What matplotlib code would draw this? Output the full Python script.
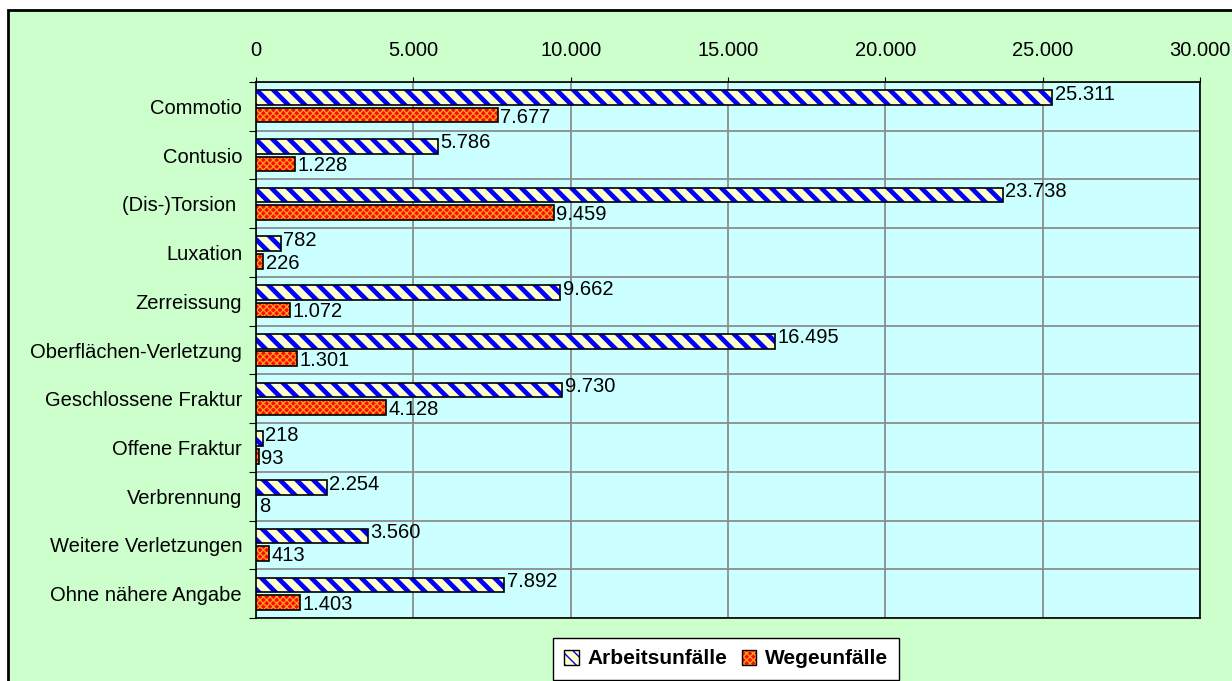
import matplotlib
matplotlib.use('Agg')
import matplotlib.pyplot as plt
import matplotlib.patches as mpatches
import matplotlib.colors as mcolors
import numpy as np

categories = ['Commotio', 'Contusio', '(Dis-)Torsion ', 'Luxation', 'Zerreissung',
              'Oberflächen-Verletzung', 'Geschlossene Fraktur', 'Offene Fraktur',
              'Verbrennung', 'Weitere Verletzungen', 'Ohne nähere Angabe']
arbeit = [25311, 5786, 23738, 782, 9662, 16495, 9730, 218, 2254, 3560, 7892]
wege = [7677, 1228, 9459, 226, 1072, 1301, 4128, 93, 8, 413, 1403]
xticks = [0, 5000, 10000, 15000, 20000, 25000, 30000]

plt.rcParams['font.family'] = ['Liberation Sans', 'DejaVu Sans']

def fmt(v):
    return f"{v:,}".replace(',', '.')

fig = plt.figure(figsize=(12.32, 6.81), dpi=100)
fig.patch.set_facecolor('white')
# green chart area
bg = mpatches.Rectangle((8/1232, -0.05), 1.0, 1 - 10/681 + 0.05, transform=fig.transFigure,
                        facecolor='#CCFFCC', edgecolor='black', linewidth=2, zorder=-5)
fig.patches.append(bg)

ax = fig.add_axes([256/1232, 1 - 618/681, 944/1232, (618 - 82)/681])
ax.set_facecolor('#CCFFFF')

y = np.arange(len(categories))
h = 0.30

with plt.rc_context({'hatch.linewidth': 3.4}):
    b1 = ax.barh(y + 0.32, arbeit, height=h, color='#FFFFCC', edgecolor='black',
                 linewidth=1.2, hatch='\\\\', zorder=3, label='Arbeitsunfälle')
with plt.rc_context({'hatch.linewidth': 0.9}):
    b2 = ax.barh(y + 0.68, wege, height=h, color='#FF0A00', edgecolor='black',
                 linewidth=1.2, hatch='xxxxx', zorder=3, label='Wegeunfälle')
for p in b1:
    p._hatch_color = mcolors.to_rgba('#0000FF')
for p in b2:
    p._hatch_color = mcolors.to_rgba('#FFA020')

for i in range(len(categories)):
    ax.text(arbeit[i] + 80, y[i] + 0.25, fmt(arbeit[i]), va='center', ha='left',
            fontsize=14.5, zorder=4)
    ax.text(wege[i] + 80, y[i] + 0.72, fmt(wege[i]), va='center', ha='left',
            fontsize=14.5, zorder=4)

ax.set_xlim(0, 30000)
ax.set_ylim(len(categories), 0)
ax.xaxis.tick_top()
ax.set_xticks(xticks)
ax.set_xticklabels([fmt(v) for v in xticks], fontsize=14.5)
ax.tick_params(axis='x', length=3.6, pad=12, color='black')

ax.set_yticks(np.arange(len(categories) + 1))
ax.set_yticklabels([])
ax.set_yticks(y + 0.5, minor=True)
ax.set_yticklabels(categories, minor=True, fontsize=14.5)
ax.tick_params(axis='y', which='major', length=5, color='black')
ax.tick_params(axis='y', which='minor', length=0, pad=10)

ax.grid(True, which='major', color='#8C8C8C', linewidth=1.3, zorder=1)
ax.set_axisbelow(True)
for s in ax.spines.values():
    s.set_color('black')
    s.set_linewidth(1.2)

with plt.rc_context({'hatch.linewidth': 2.5}):
    h1 = mpatches.Patch(facecolor='#FFFFCC', edgecolor='black', hatch='\\\\\\', label='Arbeitsunfälle')
with plt.rc_context({'hatch.linewidth': 0.9}):
    h2 = mpatches.Patch(facecolor='#FF0A00', edgecolor='black', hatch='xxxxx', label='Wegeunfälle')
h1._hatch_color = mcolors.to_rgba('#0000FF')
h2._hatch_color = mcolors.to_rgba('#FFA020')
leg = fig.legend(handles=[h1, h2], loc='center', bbox_to_anchor=(726/1232, 1 - 659/681),
                 ncol=2, frameon=True, fancybox=False, edgecolor='black', framealpha=1,
                 prop={'weight': 'bold', 'size': 15}, handlelength=0.7, handleheight=0.7,
                 handletextpad=0.4, columnspacing=0.7, borderpad=0.55)
leg.get_frame().set_linewidth(1.0)

fig.savefig('out.png', dpi=100)
